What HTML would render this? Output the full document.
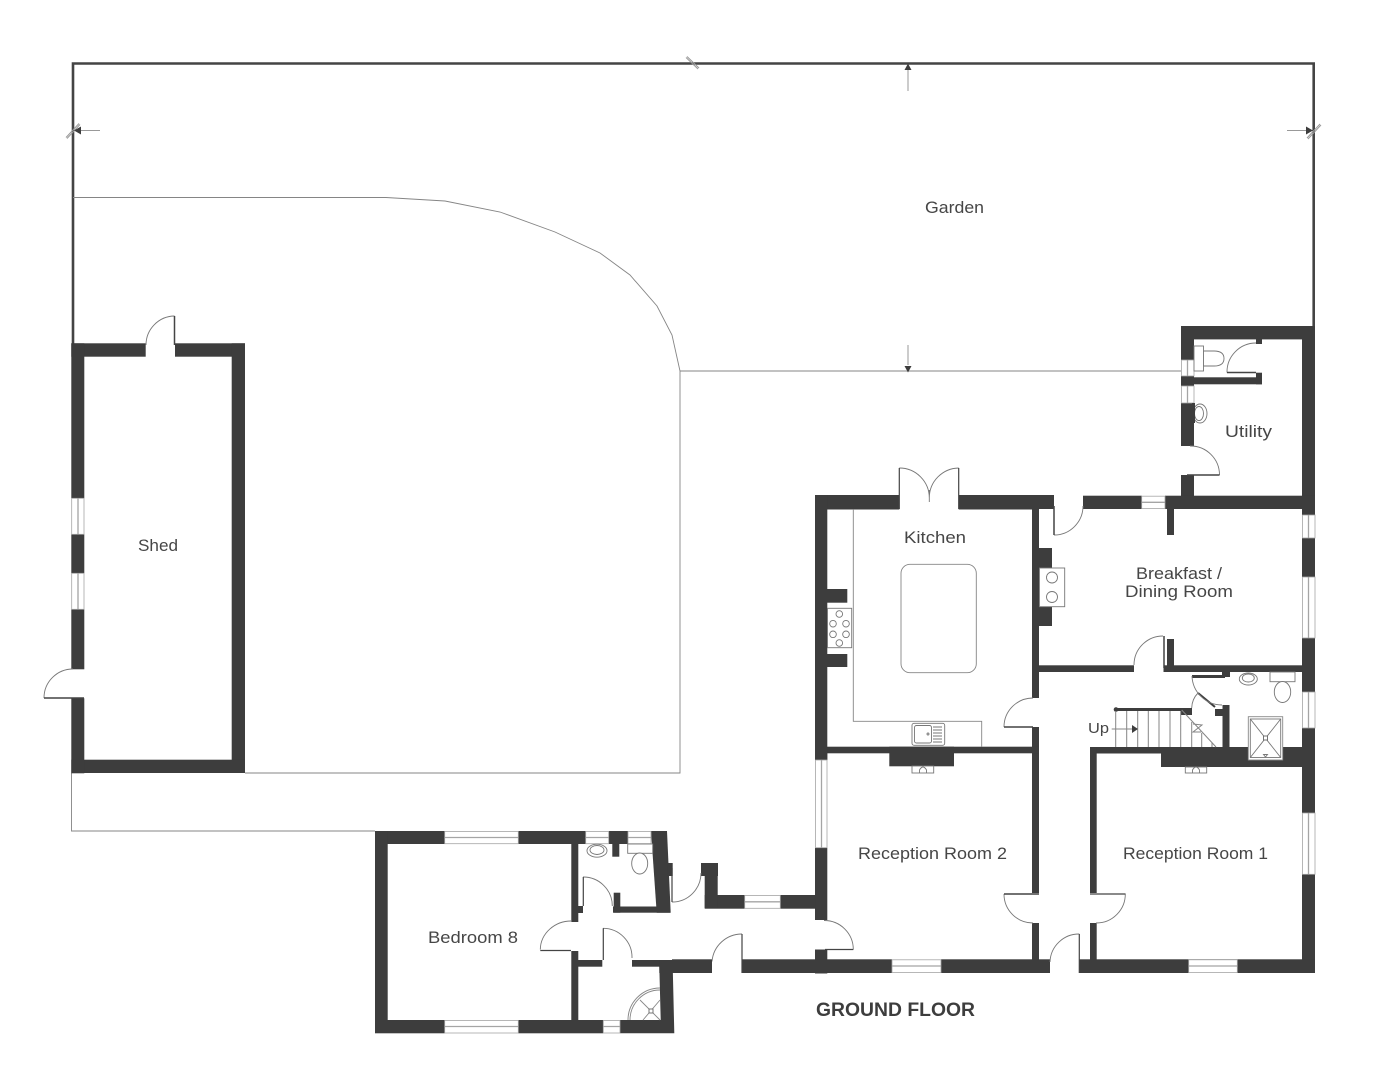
<!DOCTYPE html>
<html><head><meta charset="utf-8"><title>Ground Floor</title>
<style>
html,body{margin:0;padding:0;background:#fff;width:1385px;height:1067px;overflow:hidden}
svg{display:block}
.w{fill:#3d3d3d}
.win rect{fill:#fff;stroke:#a5a5a5;stroke-width:.8}
.win line{stroke:#a5a5a5;stroke-width:1.3}
.d{fill:none;stroke:#777;stroke-width:.9}
.l{fill:none;stroke:#444;stroke-width:1.5}
.g{fill:none;stroke:#858585;stroke-width:.9}
.b{fill:#fff;stroke:#777;stroke-width:.9}
text{font-family:"Liberation Sans",sans-serif;fill:#464646;font-size:17px}
</style></head><body>
<svg width="1385" height="1067" viewBox="0 0 1385 1067" xmlns="http://www.w3.org/2000/svg">
<rect width="1385" height="1067" fill="#fff"/>

<!-- garden boundary -->
<path d="M73 345V63.5H1313.7V326" fill="none" stroke="#444" stroke-width="2.6"/>
<path class="g" d="M73 197.5H386L445 201L500 212L555 232L600 253L630 275L657 306L672 335L680 371H1181M680 371V773H245M71.5 773V831H375"/>

<!-- ticks and arrows -->
<g stroke="#999" stroke-width="1" fill="none">
<path d="M66 137.500L79 123.500M67 138.500L80 124.500M1307 138L1320 124M1308 139L1321 125M686 57.500L698 69M687 56.500L699 68"/>
<path d="M100 130.500H80M1287 130.500H1307M908 91V70M908 345V365"/>
</g>
<path fill="#3d3d3d" d="M74 130.500L81 126.500V134.500ZM1313 130.500L1306 126.500V134.500ZM908 63.500L904.500 70H911.500ZM908 372.500L904.500 366H911.500Z"/>

<!-- SHED -->
<g class="w">
<rect x="71.300" y="343.300" width="74.400" height="13.400"/>
<rect x="175" y="343.300" width="70" height="13.400"/>
<rect x="231.700" y="343.300" width="13.300" height="429.700"/>
<rect x="71.300" y="759.700" width="173.700" height="13.300"/>
<rect x="71.300" y="343.300" width="13" height="155"/>
<rect x="71.300" y="534.300" width="13" height="39"/>
<rect x="71.300" y="609.300" width="13" height="60"/>
<rect x="71.300" y="698.300" width="13" height="75"/>
</g>
<g class="win">
<rect x="71.700" y="498.300" width="12.300" height="36"/><line x1="78" y1="498.300" x2="78" y2="534.300"/>
<rect x="71.700" y="573.300" width="12.300" height="36"/><line x1="78" y1="573.300" x2="78" y2="609.300"/>
</g>
<path class="d" d="M146 345A29 29 0 0 1 174.500 316M44 698A29 29 0 0 1 73 669"/>
<path class="l" d="M174.500 316V345M44 698H84"/>

<!-- UTILITY -->
<g class="w">
<rect x="1181" y="326" width="134" height="13.400"/>
<rect x="1181" y="326" width="13" height="34"/>
<rect x="1181" y="376" width="13" height="10"/>
<rect x="1181" y="403" width="13" height="43"/>
<rect x="1181" y="475" width="13" height="22"/>
<rect x="1302" y="326" width="13" height="189"/>
<rect x="1194" y="377.300" width="68" height="7"/>
<rect x="1256" y="372.700" width="6" height="11.600"/>
<rect x="1256" y="339" width="6" height="5"/>
</g>
<g class="win">
<rect x="1181.500" y="360" width="12.500" height="16"/><line x1="1187.500" y1="360" x2="1187.500" y2="376"/>
<rect x="1181.500" y="386" width="12.500" height="17"/><line x1="1187.500" y1="386" x2="1187.500" y2="403"/>
</g>
<path class="d" d="M1227 372.500A29 29 0 0 1 1256 343M1190 446A29 29 0 0 1 1219.500 475"/>
<path class="l" d="M1227 372.500H1256M1187 475H1219.500"/>
<rect class="b" x="1194" y="346" width="9.500" height="25"/>
<path class="b" d="M1203.500 351H1214C1221 351 1224 354 1224 358.500C1224 363 1221 366 1214 366H1203.500Z"/>
<ellipse class="b" cx="1200" cy="413.500" rx="7" ry="9.500"/>
<ellipse class="b" cx="1199" cy="413.500" rx="4.500" ry="7"/>
<rect class="w" x="1192" y="403" width="3" height="20"/>

<!-- wall y 496 -->
<g class="w">
<rect x="1032" y="495" width="22" height="14"/>
<rect x="1083" y="495.700" width="58.700" height="13.300"/>
<rect x="1165" y="495.700" width="150" height="13.300"/>
<rect x="1167" y="509" width="7" height="26"/>
<rect x="1302" y="538" width="13" height="39"/>
<rect x="1302" y="638" width="13" height="54"/>
<rect x="1302" y="728" width="13" height="85"/>
<rect x="1302" y="874.300" width="13" height="98.700"/>
</g>
<g class="win">
<rect x="1141.700" y="496.200" width="23.300" height="12.300"/><line x1="1141.700" y1="502.300" x2="1165" y2="502.300"/>
<rect x="1302.500" y="515" width="12.500" height="23"/><line x1="1308.500" y1="515" x2="1308.500" y2="538"/>
<rect x="1302.500" y="577" width="12.500" height="61"/><line x1="1308.500" y1="577" x2="1308.500" y2="638"/>
<rect x="1302.500" y="692" width="12.500" height="36"/><line x1="1308.500" y1="692" x2="1308.500" y2="728"/>
<rect x="1302.500" y="813" width="12.500" height="61.300"/><line x1="1308.500" y1="813" x2="1308.500" y2="874.300"/>
</g>

<!-- BREAKFAST / DINING -->
<path class="d" d="M1054 535A29 29 0 0 0 1083 506M1134 665A29 29 0 0 1 1163 636"/>
<path class="l" d="M1054 506V535M1164 636V668"/>
<g class="w">
<rect x="1039" y="548" width="13" height="20"/>
<rect x="1039" y="607" width="13" height="19"/>
<rect x="1039" y="665.300" width="95" height="6.700"/>
<rect x="1163.500" y="665.300" width="138.500" height="6.700"/>
<rect x="1167" y="639" width="7" height="33"/>
</g>
<rect class="b" x="1039.500" y="568" width="25.200" height="38.700"/>
<circle class="b" cx="1052" cy="577.500" r="5.500"/><circle class="b" cx="1052" cy="597" r="5.500"/>

<!-- KITCHEN -->
<g class="w">
<rect x="815" y="495" width="84.300" height="14.500"/>
<rect x="958.700" y="495" width="80" height="14.500"/>
<rect x="815" y="495" width="12.300" height="265"/>
<rect x="1032" y="495" width="7" height="203"/>
<rect x="1032" y="727" width="7" height="166"/>
<rect x="1032" y="923" width="7" height="50"/>
<rect x="827" y="746.700" width="212" height="6.600"/>
<rect x="889.300" y="746.700" width="64.700" height="19.600"/>
<rect x="827" y="589" width="20.300" height="13.700"/>
<rect x="827" y="654" width="20.300" height="13"/>
</g>
<path class="d" d="M899.300 468A30 30 0 0 1 929.300 498M958.700 468A30 30 0 0 0 929.300 498M929.300 490V502"/>
<path class="l" d="M899.300 468V509M958.700 468V509" style="stroke-width:1.2"/>
<path class="g" d="M853.300 509V721.300H981.700V747"/>
<rect class="g" x="901" y="564.300" width="75.300" height="108.400" rx="9"/>
<rect class="b" x="827.500" y="608.300" width="24.200" height="39.400"/>
<g class="d"><circle cx="839.300" cy="614" r="3.300"/><circle cx="833" cy="623.700" r="3.300"/><circle cx="846" cy="623.700" r="3.300"/><circle cx="833" cy="634.300" r="3.300"/><circle cx="846" cy="634.300" r="3.300"/><circle cx="839.300" cy="643" r="3.300"/></g>
<rect class="b" x="912" y="723.300" width="32.700" height="22" rx="2"/>
<rect class="d" x="914.500" y="725.500" width="17" height="17.500" rx="2"/>
<path class="d" d="M933 727H942M933 730H942M933 733H942M933 736H942M933 739H942M933 742H942"/>
<circle class="d" cx="928" cy="734" r="1"/>
<path class="d" d="M1033 698A29 29 0 0 0 1004 727M1004 894A29 29 0 0 0 1033 923"/>
<path class="l" d="M1004 727H1033M1004 894H1039"/>

<!-- RECEPTION ROOM 2 -->
<g class="w">
<rect x="815" y="747" width="12.300" height="13"/>
<rect x="815" y="848" width="12.300" height="72"/>
<rect x="815" y="949.500" width="12.300" height="24"/>
<rect x="672" y="959.300" width="40" height="13.700"/>
<rect x="742" y="959.300" width="150" height="13.700"/>
<rect x="941" y="959.300" width="109" height="13.700"/>
<rect x="704.700" y="895" width="40" height="13.700"/>
<rect x="780.300" y="895" width="35" height="13.700"/>
<rect x="704.700" y="863" width="13" height="45"/>
<rect x="701" y="863" width="17" height="13"/>
</g>
<g class="win">
<rect x="815.500" y="760" width="11.500" height="87.700"/><line x1="821.500" y1="760" x2="821.500" y2="847.700"/>
<rect x="892" y="959.800" width="49" height="12.800"/><line x1="892" y1="966" x2="941" y2="966"/>
<rect x="744.700" y="895.500" width="35.600" height="12.800"/><line x1="744.700" y1="901.800" x2="780.300" y2="901.800"/>
</g>
<rect class="b" x="912" y="766" width="21.700" height="7"/>
<path class="d" d="M919.500 773V770Q923 764 926.500 770V773"/>
<path class="d" d="M824 920.500A29 29 0 0 1 853.300 949.500M712 961.500A30 30 0 0 1 742 934M672 902A29 29 0 0 0 701 873"/>
<path class="l" d="M825 949.500H853.300M742 934V973M672 868V902" style="stroke-width:1.2"/>

<!-- RECEPTION ROOM 1 -->
<g class="w">
<rect x="1090" y="747" width="225" height="6.500"/>
<rect x="1161" y="747" width="154" height="20"/>
<rect x="1090" y="747" width="6.700" height="146"/>
<rect x="1090" y="923" width="6.700" height="50"/>
<rect x="1079.500" y="959.300" width="235.500" height="13.700"/>
</g>
<g class="win"><rect x="1188.700" y="959.800" width="48.600" height="12.800"/><line x1="1188.700" y1="966" x2="1237.300" y2="966"/></g>
<rect class="b" x="1185.300" y="767" width="21.400" height="6"/>
<path class="d" d="M1192.500 773V770Q1196 764 1199.500 770V773"/>
<path class="d" d="M1125.300 893.500A29 29 0 0 1 1096 923M1050 962A29 29 0 0 1 1079.300 934"/>
<path class="l" d="M1090 894H1125.300M1079.300 934V973" style="stroke-width:1.2"/>

<!-- STAIRS / BATH -->
<g class="w">
<rect x="1116" y="708" width="76" height="3"/>
<rect x="1181" y="708" width="11" height="7"/>
<circle cx="1116" cy="709.500" r="2.300"/>
<rect x="1222.500" y="705" width="7" height="42"/>
<rect x="1215" y="709" width="8" height="7"/>
<rect x="1192" y="675" width="33" height="3"/>
<rect x="1222" y="672" width="8" height="5"/>
</g>
<path class="g" d="M1115.700 711V747M1126.700 711V747M1137.700 711V747M1148.300 711V747M1159 711V747M1170 711V747M1180.700 711V747M1191.700 722V747M1201.700 733V747M1212 743V747M1181.700 710L1216 747M1193 724L1202 725L1193 732L1201 732" style="stroke-width:1"/>
<path d="M1198 693L1215 707" stroke="#3d3d3d" stroke-width="2" fill="none"/>
<path class="d" d="M1192 676A30 30 0 0 0 1222 705M1198 693Q1192 699 1191.700 708"/>
<path class="g" d="M1111.700 729H1132" style="stroke-width:.9"/>
<path fill="#3d3d3d" d="M1138 729L1132 725V733Z"/>
<ellipse class="b" cx="1248.300" cy="679" rx="9" ry="6"/>
<ellipse class="d" cx="1248.300" cy="678" rx="6" ry="4"/>
<rect class="b" x="1270" y="672" width="25" height="9.700"/>
<ellipse class="b" cx="1282.500" cy="692" rx="8.200" ry="10.500"/>
<rect x="1248.300" y="716.700" width="34.400" height="43.300" fill="#fff" stroke="#888" stroke-width=".9"/>
<rect class="d" x="1250.300" y="719" width="30.400" height="38.500"/>
<path class="d" d="M1250.300 719L1280.700 757.500M1280.700 719L1250.300 757.500"/>
<rect x="1263.500" y="736" width="4" height="4" fill="#fff" stroke="#666" stroke-width=".9"/>
<path class="d" d="M1263.500 754.500H1267.500L1265.500 757Z"/>

<!-- BEDROOM 8 BLOCK -->
<g class="w">
<rect x="375" y="831" width="69.700" height="13"/>
<rect x="518.300" y="831" width="67.400" height="13"/>
<rect x="608.700" y="831" width="19.300" height="13"/>
<polygon points="651,831 667,831 670.700,912.700 656.700,912.700"/>
<rect x="375" y="831" width="12.700" height="202"/>
<rect x="375" y="1020" width="69.700" height="13.300"/>
<rect x="518.300" y="1020" width="85" height="13.300"/>
<polygon points="620,1020 660.700,1020 659.300,966 672.700,966 674.300,1033.300 620,1033.300"/>
<rect x="571.300" y="844" width="7" height="78"/>
<rect x="578" y="906" width="5" height="7"/>
<rect x="571.300" y="951" width="7" height="69"/>
<rect x="612.300" y="844" width="7" height="12.700"/>
<rect x="613" y="906.500" width="57" height="6.200"/>
<rect x="613.700" y="892.700" width="6.600" height="20"/>
<rect x="667.700" y="863" width="5" height="13"/>
<rect x="578" y="960" width="24.300" height="6.700"/>
<rect x="632" y="960" width="42" height="6.700"/>
<rect x="659.300" y="960" width="52.700" height="13"/>
</g>
<g class="win">
<rect x="444.700" y="831.500" width="73.600" height="12.200"/><line x1="444.700" y1="837.500" x2="518.300" y2="837.500"/>
<rect x="585.700" y="831.500" width="23" height="12.200"/><line x1="585.700" y1="837.500" x2="608.700" y2="837.500"/>
<rect x="628" y="831.500" width="23" height="12.200"/><line x1="628" y1="837.500" x2="651" y2="837.500"/>
<rect x="444.700" y="1020.500" width="73.600" height="12.500"/><line x1="444.700" y1="1026.500" x2="518.300" y2="1026.500"/>
<rect x="603.300" y="1020.500" width="16.700" height="12.500"/><line x1="603.300" y1="1026.500" x2="620" y2="1026.500"/>
</g>
<ellipse class="b" cx="597" cy="850.700" rx="10" ry="6.500"/>
<ellipse class="d" cx="597" cy="850" rx="7" ry="4.500"/>
<rect class="b" x="627.700" y="844" width="25" height="9.300"/>
<ellipse class="b" cx="639.700" cy="863.500" rx="8" ry="10.500"/>
<path class="d" d="M583 877A29 29 0 0 1 612.300 906M540.300 949.500A31 29 0 0 1 572 921M603 928.300A29 29 0 0 1 632 958"/>
<path class="l" d="M583.300 877V906M540.300 950.500H571M603.300 928.300V960" style="stroke-width:1.2"/>
<path class="d" d="M660 988A32 32 0 0 0 628 1020M660 990A30 30 0 0 0 630 1020M640 1000L660 1020M660 1000L643 1020" style="stroke:#888"/>
<rect x="649" y="1009" width="4" height="4" fill="#fff" stroke="#666" stroke-width=".9"/>

<!-- LABELS -->
<text x="925" y="213" textLength="59" lengthAdjust="spacingAndGlyphs">Garden</text>
<text x="138" y="551" textLength="40" lengthAdjust="spacingAndGlyphs">Shed</text>
<text x="904" y="543" textLength="62" lengthAdjust="spacingAndGlyphs">Kitchen</text>
<text x="1136" y="579" textLength="86" lengthAdjust="spacingAndGlyphs">Breakfast /</text>
<text x="1125" y="597" textLength="108" lengthAdjust="spacingAndGlyphs">Dining Room</text>
<text x="1225" y="437" textLength="47" lengthAdjust="spacingAndGlyphs">Utility</text>
<text x="858" y="859" textLength="149" lengthAdjust="spacingAndGlyphs">Reception Room 2</text>
<text x="1123" y="859" textLength="145" lengthAdjust="spacingAndGlyphs">Reception Room 1</text>
<text x="428" y="943" textLength="90" lengthAdjust="spacingAndGlyphs">Bedroom 8</text>
<text x="1088" y="733" textLength="21" lengthAdjust="spacingAndGlyphs" style="font-size:15px">Up</text>
<text x="816" y="1016" textLength="159" lengthAdjust="spacingAndGlyphs" style="font-size:19px;font-weight:bold;fill:#3d3d3d">GROUND FLOOR</text>
</svg>
</body></html>
